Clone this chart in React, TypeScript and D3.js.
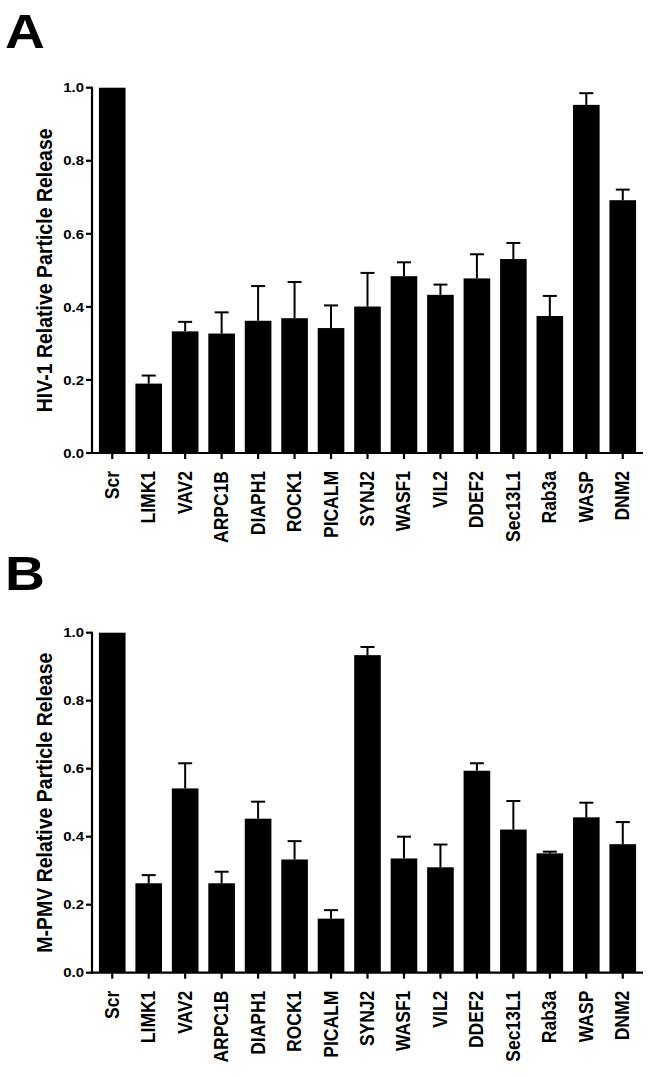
import React from "react";
import * as d3 from "d3";

const categories = ["Scr","LIMK1","VAV2","ARPC1B","DIAPH1","ROCK1","PICALM","SYNJ2","WASF1","VIL2","DDEF2","Sec13L1","Rab3a","WASP","DNM2"];
const hivMean = [1.0,0.190,0.333,0.327,0.362,0.369,0.342,0.401,0.484,0.433,0.478,0.531,0.375,0.953,0.692];
const hivErr  = [0,0.022,0.026,0.058,0.095,0.099,0.062,0.092,0.038,0.028,0.066,0.044,0.055,0.032,0.029];
const mpmvMean = [1.0,0.263,0.542,0.263,0.453,0.333,0.159,0.934,0.336,0.310,0.594,0.421,0.351,0.457,0.378];
const mpmvErr  = [0,0.024,0.074,0.034,0.050,0.054,0.025,0.024,0.064,0.067,0.022,0.084,0.005,0.043,0.065];
const yTicks = [0, 0.2, 0.4, 0.6, 0.8, 1.0];

const FONT = "'Liberation Sans', Arial, Helvetica, sans-serif";
const SX = 1.15;

type PanelProps = {
  letter: string; letterY: number; title: string;
  top: number; bottom: number; means: number[]; errs: number[];
};

function Panel({ letter, letterY, title, top, bottom, means, errs }: PanelProps) {
  const axisX = 92;
  const x = d3.scaleBand<string>().domain(categories).range([axisX, 643]).paddingInner(0.27).paddingOuter(0.19);
  const y = d3.scaleLinear().domain([0, 1]).range([bottom, top]);
  const bw = x.bandwidth();
  const capW = 14;
  return (
    <g>
      <text transform={`translate(5,${letterY}) scale(${SX},1)`} fontFamily={FONT} fontWeight="bold" fontSize={48}>{letter}</text>
      {categories.map((c, i) => {
        const x0 = x(c)!;
        const cx = x0 + bw / 2;
        return (
          <g key={c}>
            <rect x={x0} y={y(means[i])} width={bw} height={bottom - y(means[i])} fill="#000" />
            {errs[i] > 0 && (
              <g stroke="#000" strokeWidth={2}>
                <line x1={cx} x2={cx} y1={y(means[i])} y2={y(means[i] + errs[i])} />
                <line x1={cx - capW / 2} x2={cx + capW / 2} y1={y(means[i] + errs[i])} y2={y(means[i] + errs[i])} />
              </g>
            )}
          </g>
        );
      })}
      <line x1={axisX} x2={axisX} y1={top - 1} y2={bottom + 1} stroke="#000" strokeWidth={2.2} />
      <line x1={axisX - 1} x2={643} y1={bottom} y2={bottom} stroke="#000" strokeWidth={2.2} />
      {yTicks.map(t => (
        <g key={t}>
          <line x1={axisX - 6} x2={axisX} y1={y(t)} y2={y(t)} stroke="#000" strokeWidth={2.2} />
          <text transform={`translate(84,${y(t) + 4.7}) scale(${SX},1)`} textAnchor="end" fontFamily={FONT} fontWeight="bold" fontSize={13}>{t.toFixed(1)}</text>
        </g>
      ))}
      {categories.map(c => {
        const cx = x(c)! + bw / 2;
        return (
          <g key={"t" + c}>
            <line x1={cx} x2={cx} y1={bottom} y2={bottom + 6} stroke="#000" strokeWidth={2.2} />
            <text transform={`translate(${cx + 6.5},${bottom + 18}) scale(${SX},1) rotate(-90)`} textAnchor="end" fontFamily={FONT} fontWeight="bold" fontSize={17.5}>{c}</text>
          </g>
        );
      })}
      <text transform={`translate(51.5,${(top + bottom) / 2}) scale(${SX},1) rotate(-90)`} textAnchor="middle" fontFamily={FONT} fontWeight="bold" fontSize={19.5}>{title}</text>
    </g>
  );
}

export default function App() {
  return (
    <svg width={652} height={1077} style={{ position: "absolute", left: 0, top: 0, background: "#fff" }}>
      <rect width={652} height={1077} fill="#fff" />
      <Panel letter="A" letterY={47.7} title="HIV-1 Relative Particle Release" top={87.7} bottom={453} means={hivMean} errs={hivErr} />
      <Panel letter="B" letterY={590} title="M-PMV Relative Particle Release" top={632.7} bottom={972.7} means={mpmvMean} errs={mpmvErr} />
    </svg>
  );
}
